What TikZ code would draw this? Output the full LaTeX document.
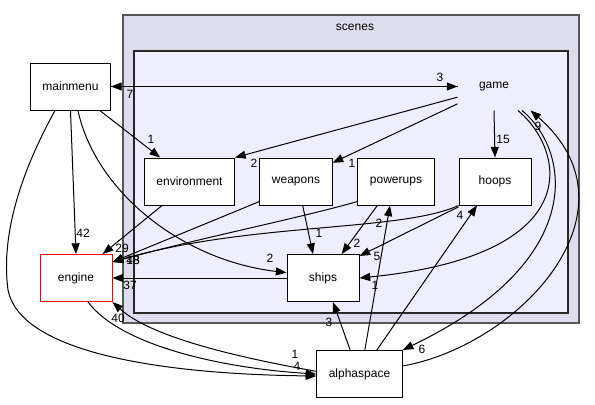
\documentclass[tikz,border=0pt]{standalone}
\usepackage{fontspec}
\setmainfont{Liberation Sans}
\usetikzlibrary{arrows.meta, positioning}
\definecolor{cOuter}{HTML}{DDDDEE}
\definecolor{cInner}{HTML}{EEEEFF}
\definecolor{cFrame}{HTML}{555555}

\begin{document}
\begin{tikzpicture}[x=0.75pt, y=-0.75pt,
  dir/.style={draw, fill=white, line width=0.75pt, minimum width=54pt, minimum height=35.25pt, inner xsep=9pt, font=\fontsize{9}{11}\selectfont},
  dep/.style={line width=0.75pt, -{Triangle[length=8pt,width=6pt]}},
  lbl/.style={font=\fontsize{9}{11}\selectfont, inner sep=0pt}
]
\useasboundingbox (0,0) rectangle (595,404);
% clusters
\draw[cFrame, line width=1.2pt, fill=cOuter] (123,15) rectangle (579,323);
\node[lbl] (scenes) at (355,27) {scenes};
\draw[black!85, line width=1pt, fill=cInner] (134,51) rectangle (568,313);

% directories
\node[dir] (mainmenu) at (70.5,86.5) {mainmenu};
\node[dir, draw=none, fill=none] (game) at (494,86.5) {game};
\node[dir] (environment) at (189.5,181.5) {environment};
\node[dir] (weapons) at (296,181.5) {weapons};
\node[dir] (powerups) at (396,181.5) {powerups};
\node[dir] (hoops) at (495,181.5) {hoops};
\node[dir, draw=red] (engine) at (76,278) {engine};
\node[dir] (ships) at (323,278) {ships};
\node[dir] (alphaspace) at (359.5,374) {alphaspace};

% dependencies
\draw[dep] (mainmenu.east) -- (game.west);
\draw[dep] (game.west) -- (mainmenu.east);
\draw[dep] ([xshift=22pt]mainmenu.south) -- ([xshift=-22pt]environment.north);
\draw[dep] ([yshift=-8pt]game.west) -- (environment.north east);
\draw[dep] ([yshift=-13pt]game.west) -- ([yshift=-4pt]weapons.north east);
\draw[dep] (game.south) -- (hoops.north);
\draw[dep] ([xshift=18pt]game.south) .. controls (565,150) and (590,255) .. (ships.east);
\draw[dep] ([xshift=21pt]game.south) .. controls (570,150) and (590,260) .. (alphaspace.north east);
\draw[dep] ([yshift=6pt]alphaspace.east) .. controls (520,345) and (645,210) .. (game.south east);
\draw[dep] (mainmenu.south) -- (engine.north);
\draw[dep] ([xshift=5.6pt]mainmenu.south) .. controls (95,190) and (180,260) .. ([yshift=4pt]ships.west);
\draw[dep] ([xshift=-11.6pt]mainmenu.south) .. controls (25,165) and (0,230) .. (8,290)
  .. controls (20,350) and (150,374) .. ([yshift=-1.5pt]alphaspace.west);
\draw[dep] ([xshift=-20.6pt]environment.south) -- ([xshift=20pt]engine.north);
\draw[dep] ([yshift=3pt]weapons.south west) -- ([yshift=-6pt]engine.north east);
\draw[dep] ([yshift=3pt]powerups.south west) .. controls (300,218) and (200,238) .. ([yshift=-6pt]engine.north east);
\draw[dep] (hoops.south west) .. controls (400,232) and (250,222) .. ([yshift=-6pt]engine.north east);
\draw[dep] ([xshift=5pt]weapons.south) -- ([xshift=-7.5pt]ships.north);
\draw[dep] ([xshift=-14pt]powerups.south) -- ([xshift=14pt]ships.north);
\draw[dep] ([yshift=-1pt]hoops.south west) -- ([yshift=-1.5pt]ships.north east);
\draw[dep] (ships.west) -- (engine.east);
\draw[dep] ([xshift=9pt]engine.south) .. controls (120,345) and (220,368) .. (alphaspace.west);
\draw[dep] ([yshift=2pt]alphaspace.west) .. controls (230,356) and (150,336) .. (engine.south east);
\draw[dep] ([xshift=-7pt]alphaspace.north) -- ([xshift=7.5pt]ships.south);
\draw[dep] ([xshift=4pt]alphaspace.north) -- ([xshift=-4.5pt]powerups.south);
\draw[dep] ([xshift=13pt]alphaspace.north) -- ([xshift=-13.5pt]hoops.south);

% edge counts
\node[lbl] (n7) at (130,94) {7};
\node[lbl] (n3a) at (440,77) {3};
\node[lbl] (n1a) at (151,139) {1};
\node[lbl] (n2a) at (254,163) {2};
\node[lbl] (n1b) at (352,163) {1};
\node[lbl] (n15) at (503,139) {15};
\node[lbl] (n9) at (538,126) {9};
\node[lbl] (n42) at (83,233) {42};
\node[lbl] (n29) at (122,248) {29};
\node[lbl] (n48) at (133,260) {48};
\node[lbl] (n13) at (133,260) {13};
\node[lbl] (n37) at (130,285) {37};
\node[lbl] (n40) at (118,318) {40};
\node[lbl] (n1c) at (295,354) {1};
\node[lbl] (n4a) at (297,366) {4};
\node[lbl] (n2b) at (270,258) {2};
\node[lbl] (n1d) at (319,233) {1};
\node[lbl] (n2c) at (357,243) {2};
\node[lbl] (n5) at (377,256) {5};
\node[lbl] (n1e) at (375,285) {1};
\node[lbl] (n2d) at (379,223) {2};
\node[lbl] (n4b) at (460,215) {4};
\node[lbl] (n3b) at (329,322) {3};
\node[lbl] (n6) at (422,349) {6};
\end{tikzpicture}
\end{document}
